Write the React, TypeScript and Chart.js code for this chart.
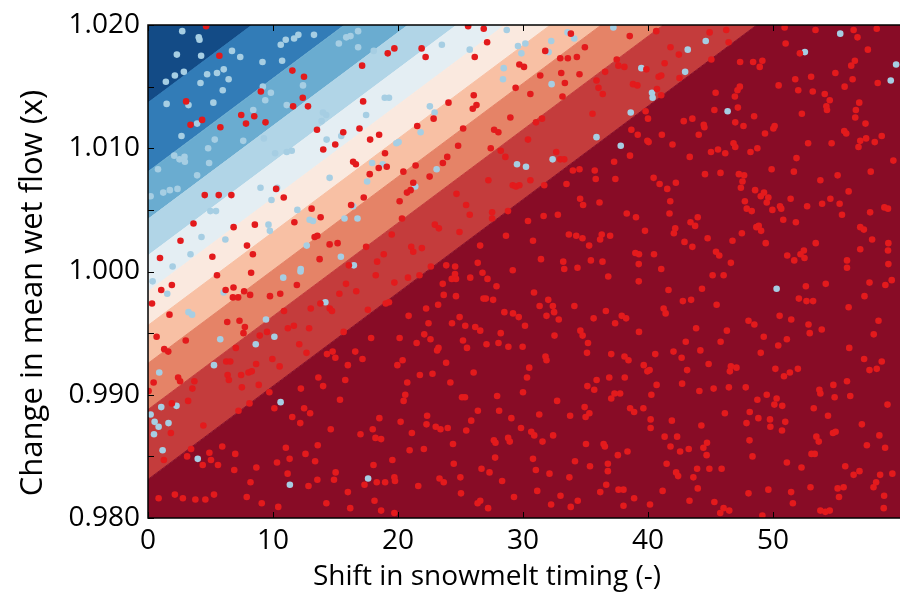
import React, { useEffect, useRef } from 'react';
import { Chart, registerables } from 'chart.js';

Chart.register(...registerables);

// ---------- axis / labels ----------
const xTicks = [0, 10, 20, 30, 40, 50];
const yTicks = [0.98, 0.99, 1.0, 1.01, 1.02];
const yMinorTicks = [0.985, 0.995, 1.005, 1.015];
const xMin = 0;
const xMax = 60.64; // axis continues past the right edge of the picture
const yMin = 0.98;
const yMax = 1.02;
const xTitle = 'Shift in snowmelt timing (-)';
const yTitle = 'Change in mean wet flow (x)';

// ---------- contour band boundaries (value at x = xMin and x = xMax) ----------
const bandLeft = [0.98313, 0.9888, 0.99255, 0.99563, 0.99838, 1.0013, 1.00425, 1.0081, 1.0137];
const bandRight = [1.02904, 1.03471, 1.03846, 1.04154, 1.04429, 1.04721, 1.05016, 1.05401, 1.05961];
const bandColors = ['#880c26', '#c43c3c', '#e58367', '#f8c0a4', '#fae9df', '#e4eef3', '#b1d5e7', '#6aacd0', '#327cb7', '#134b86'];

// ---------- scatter points ----------
const bluePoints: [number, number][] = [
  [2.74,1.0195],[4.06,1.019],[4.12,1.0188],[2.31,1.0176],[4.25,1.0175],[2.87,1.0162],[2.15,1.0159],[1.43,1.0154],[4.2,1.0153],[4.73,1.016],
  [5.52,1.0161],[6.06,1.0164],[6.45,1.0156],[5.98,1.0147],[6.72,1.0179],[7.38,1.0174],[1.49,1.0136],[3.24,1.0135],[5.23,1.0137],[3.93,1.012],
  [2.68,1.011],[5.34,1.0107],[4.81,1.01],[2.1,1.0094],[2.52,1.0091],[2.92,1.0093],[2.95,1.0089],[0.8,1.0083],[4.89,1.0088],[3.93,1.0078],
  [0.21,1.0061],[1.22,1.0064],[1.75,1.0066],[2.36,1.0067],[9.16,1.017],[10.73,1.0171],[9.19,1.015],[9.83,1.0145],[9.38,1.0139],[8.42,1.0131],
  [7.62,1.0106],[9.27,1.0108],[10.17,1.0096],[11.1,1.0135],[10.62,1.0184],[11.02,1.0188],[11.69,1.0189],[12.03,1.0192],[13.28,1.0192],[15.27,1.0185],
  [15.86,1.019],[16.2,1.0191],[16.81,1.0195],[16.81,1.0182],[18.06,1.0179],[18.94,1.0141],[19.28,1.0141],[17.45,1.0127],[14.0,1.0129],[14.26,1.0127],
  [13.89,1.0122],[12.4,1.0151],[14.29,1.0107],[15.46,1.011],[11.5,1.0098],[11.1,1.0097],[17.93,1.0088],[18.78,1.0087],[19.87,1.0104],[17.53,1.0073],
  [14.53,1.0076],[9.0,1.0068],[9.88,1.0058],[10.33,1.0068],[11.95,1.005],[12.93,1.0042],[13.2,1.0041],[15.72,1.0043],[16.41,1.0053],[16.76,1.0043],
  [9.64,1.0038],[9.75,1.0033],[6.19,1.0026],[4.28,1.0028],[3.4,1.0014],[1.97,1.0004],[12.7,1.0021],[15.43,1.0012],[16.47,1.0005],[12.22,1.0002],
  [4.99,1.0049],[5.44,1.0049],
  [28.7,1.0196],[23.51,1.0184],[25.74,1.018],[29.6,1.0183],[30.19,1.0185],[29.87,1.0177],[28.46,1.0165],[28.4,1.0156],[32.26,1.0187],[32.05,1.0178],
  [33.56,1.0194],[34.1,1.0189],[37.23,1.0198],[32.29,1.0152],[39.47,1.0165],[22.55,1.0134],[22.93,1.0129],[21.81,1.0113],[20.05,1.0105],[23.09,1.0083],
  [21.38,1.0069],[38.62,1.0129],[35.88,1.0109],[37.82,1.0102],[32.37,1.0091],[29.52,1.0087],[30.24,1.0085],
  [44.62,1.0187],[43.18,1.018],[42.97,1.0162],[40.32,1.0145],[40.37,1.0141],[46.37,1.013],[52.55,1.0178],[55.38,1.0193],[59.42,1.0155],[59.85,1.0168],
  [0.37,0.9992],[1.54,0.9982],[3.24,0.9967],[3.53,0.9965],[6.05,0.9983],[9.44,0.9961],[5.78,0.9945],[8.62,0.9941],[10.11,0.9947],[5.28,0.9924],
  [0.9,0.9918],[1.06,0.989],[2.28,0.9891],[0.21,0.9884],[0.53,0.9878],[0.85,0.9874],[1.64,0.9877],[0.48,0.9868],[1.17,0.9855],[3.98,0.9848],
  [10.61,0.9894],[10.82,0.9995],[11.35,0.9827],[17.61,0.9832],[14.19,0.9975],[12.2,1.0],
  [50.29,0.9986],
];

const redPoints: [number, number][] = [
  // x 0-20, y 1.000-1.020
  [4.65,1.0199],[5.71,1.0175],[11.55,1.0163],[12.48,1.0158],[9.03,1.0146],[12.38,1.0141],[11.61,1.0134],[12.8,1.0134],[3.05,1.0138],[4.33,1.0123],
  [3.4,1.0119],[5.79,1.0117],[7.46,1.0127],[8.5,1.0126],[7.84,1.012],[9.4,1.0121],[13.52,1.0115],[15.62,1.0113],[14.98,1.0103],[14.02,1.0099],
  [16.92,1.0116],[17.77,1.0107],[18.49,1.0111],[18.96,1.0096],[16.41,1.0089],[16.63,1.0087],[18.46,1.0084],[19.1,1.0085],[17.74,1.0079],[19.18,1.0177],
  [19.71,1.0181],[17.13,1.0167],[17.21,1.0138],[4.54,1.0062],[5.66,1.0062],[6.67,1.0062],[10.25,1.0067],[10.86,1.006],[13.09,1.0051],[13.81,1.0044],
  [11.71,1.004],[8.55,1.0038],[6.85,1.0036],[3.64,1.0039],[2.6,1.0025],[7.92,1.0021],[8.39,1.0014],[5.15,1.0012],[0.96,1.0011],[13.33,1.0028],
  [13.55,1.0029],[14.53,1.0022],[15.17,1.0023],[16.25,1.0054],[17.26,1.006],[19.5,1.003],[17.45,1.002],[18.86,1.0014],[18.33,1.0008],[13.73,1.001],
  [16.07,1.0005],
  // x 20-40, y 1.000-1.020
  [25.61,1.0199],[26.86,1.0197],[27.13,1.0186],[21.89,1.0181],[22.21,1.0174],[26.14,1.0174],[31.78,1.0179],[32.98,1.0173],[33.59,1.0173],[34.31,1.0174],
  [33.83,1.0193],[34.95,1.0182],[38.54,1.0191],[37.5,1.0172],[37.63,1.0167],[38.11,1.0166],[39.87,1.0164],[29.71,1.0168],[30.08,1.0166],[31.38,1.0159],
  [33.06,1.0161],[34.52,1.016],[33.35,1.0153],[29.41,1.0149],[30.59,1.0144],[33.16,1.0142],[26.06,1.0143],[26.28,1.0135],[25.98,1.0132],[24.04,1.0137],
  [22.85,1.0124],[21.54,1.0118],[25.21,1.0116],[27.69,1.0115],[28.03,1.0113],[28.99,1.0125],[31.04,1.0121],[31.52,1.0124],[35.88,1.0155],[36.04,1.0149],
  [36.38,1.0144],[36.57,1.0162],[38.8,1.0152],[39.15,1.0151],[35.56,1.0128],[39.81,1.013],[38.67,1.0115],[39.18,1.0111],[39.95,1.0106],[38.56,1.0094],
  [37.29,1.0089],[30.4,1.0107],[27.42,1.01],[28.22,1.0098],[28.59,1.0093],[24.81,1.0102],[23.94,1.0093],[23.59,1.0088],[22.53,1.0077],[20.43,1.0081],
  [21.41,1.0086],[32.66,1.0097],[32.98,1.0091],[33.3,1.0091],[33.99,1.0082],[34.52,1.0083],[35.74,1.0082],[35.82,1.0075],[37.39,1.0075],[30.59,1.0074],
  [31.7,1.007],[33.48,1.0071],[27.23,1.0074],[29.18,1.007],[29.44,1.0069],[29.71,1.007],[21.22,1.0072],[21.01,1.0066],[20.72,1.0064],[20.13,1.0057],
  [20.32,1.0043],[24.68,1.0063],[25.45,1.0054],[25.74,1.0046],[27.53,1.0048],[27.53,1.0043],[28.8,1.0049],[30.4,1.0041],[31.65,1.0045],[32.79,1.0046],
  [34.57,1.0059],[34.81,1.0054],[36.12,1.0056],[38.3,1.0047],[39.04,1.0044],[22.95,1.0038],[23.27,1.0035],[24.92,1.0032],[21.06,1.002],[21.22,1.0016],
  [21.91,1.0019],[22.63,1.0004],[23.86,1.0005],[24.57,1.0004],[26.57,1.0021],[26.38,1.0007],[28.64,1.0029],[30.8,1.0025],[31.44,1.001],[33.22,1.0008],
  [33.67,1.003],[34.26,1.0029],[34.76,1.0027],[35.29,1.0021],[36.17,1.0026],[36.3,1.003],[36.97,1.0029],[39.76,1.0033],[35.43,1.0009],[36.36,1.0008],
  [38.99,1.0015],[39.28,1.0014],[39.26,1.0006],[29.18,1.0001],[33.3,1.0002],[34.36,1.0003],
  // x 40-60, y 1.000-1.020
  [40.66,1.0195],[41.8,1.0182],[42.47,1.0176],[41.33,1.0169],[40.85,1.0158],[41.06,1.0159],[42.52,1.0157],[40.72,1.0148],[41.06,1.0143],[44.93,1.0194],
  [46.26,1.0196],[46.45,1.0186],[45.07,1.0172],[40.0,1.0124],[47.37,1.017],[48.41,1.017],[49.15,1.0171],[48.94,1.0166],[51.01,1.0185],[50.93,1.0198],
  [53.4,1.0196],[56.45,1.0196],[56.76,1.019],[58.3,1.0197],[57.59,1.018],[52.15,1.0177],[56.55,1.0171],[56.26,1.0167],[54.99,1.0161],[56.37,1.0156],
  [51.78,1.0156],[53.05,1.0158],[50.45,1.0151],[52.02,1.0147],[53.18,1.0146],[54.14,1.0144],[54.54,1.0139],[54.27,1.0134],[54.32,1.0131],[55.73,1.015],
  [58.38,1.0153],[56.9,1.0137],[56.63,1.0131],[56.58,1.0125],[57.4,1.012],[58.7,1.011],[58.14,1.0105],[57.45,1.0108],[56.98,1.0106],[56.84,1.0101],
  [55.7,1.0114],[55.86,1.0112],[54.69,1.0104],[52.81,1.0104],[51.88,1.0092],[49.89,1.0083],[51.67,1.0081],[53.79,1.0074],[55.17,1.0078],[56.05,1.0065],
  [54.59,1.0059],[53.93,1.0055],[55.33,1.0055],[55.52,1.0046],[56.98,1.0036],[57.27,1.0034],[57.77,1.0048],[57.82,1.0081],[58.91,1.0052],[59.2,1.0051],
  [59.63,1.009],[57.93,1.0026],[59.23,1.0023],[59.2,1.0017],[56.98,1.0018],[55.92,1.0009],[55.92,1.0003],[59.23,1.0006],[53.42,1.0023],[52.47,1.0017],
  [52.2,1.0014],[52.52,1.0011],[51.7,1.0009],[51.14,1.0013],[52.73,1.0053],[51.41,1.0059],[51.83,1.004],[50.82,1.0042],[50.56,1.0053],[50.66,1.0051],
  [49.95,1.005],[49.63,1.006],[49.5,1.0056],[49.28,1.0064],[49.02,1.0061],[48.57,1.0066],[48.86,1.0037],[49.05,1.0033],[48.67,1.0036],[47.75,1.0057],
  [47.9,1.0051],[48.3,1.0049],[47.51,1.0031],[46.76,1.0025],[46.63,1.0007],[49.42,1.0023],[45.44,1.0016],[45.7,1.0013],[44.77,1.0027],[43.55,1.002],
  [42.92,1.0024],[40.48,1.0014],[41.06,1.0002],[43.98,1.0044],[43.4,1.004],[43.77,1.0037],[42.18,1.0035],[42.07,1.0031],[41.72,1.0047],[41.78,1.0057],
  [41.54,1.0067],[40.93,1.0071],[40.45,1.0076],[42.23,1.0072],[44.56,1.0079],[45.8,1.008],[47.27,1.0079],[47.69,1.0078],[47.56,1.0073],[47.43,1.0068],
  [46.18,1.0096],[45.6,1.0099],[45.04,1.0097],[43.34,1.0093],[41.96,1.0103],[41.11,1.0111],[40.05,1.0105],[44.06,1.0111],[44.46,1.0119],[44.51,1.0117],
  [43.55,1.0124],[42.86,1.0122],[45.31,1.0131],[45.41,1.0145],[46.95,1.0142],[47.16,1.0147],[47.35,1.015],[47.19,1.0133],[46.98,1.0121],[47.64,1.0118],
  [48.49,1.0126],[49.36,1.0112],[50.03,1.0116],[50.13,1.0118],[48.2,1.0097],[48.75,1.01],[46.98,1.0101],[46.84,1.0104],[52.31,1.0128],
  // x 0-20, y 0.980-1.000
  [5.52,0.9997],[1.06,0.9985],[1.91,0.9989],[0.32,0.9974],[1.72,0.9965],[6.21,0.9985],[6.84,0.9987],[6.79,0.9979],[7.21,0.9979],[7.69,0.9984],
  [8.17,0.9981],[8.25,0.9999],[9.76,0.998],[10.58,0.9982],[11.91,0.9989],[10.88,0.9968],[6.34,0.9959],[7.32,0.996],[7.75,0.9955],[7.64,0.995],
  [8.94,0.9948],[9.52,0.9951],[3.02,0.9944],[0.69,0.9947],[1.3,0.9937],[1.62,0.9935],[7.03,0.9938],[11.19,0.9954],[11.67,0.9956],[12.89,0.9954],
  [12.1,0.9941],[12.68,0.9934],[13.02,0.997],[13.79,0.9974],[14.54,0.997],[14.72,0.9968],[15.31,0.9982],[15.84,0.999],[16.66,0.9984],[17.59,0.9969],
  [18.22,0.9997],[19.02,0.9974],[19.28,0.9975],[19.71,0.9991],[15.65,0.9951],[17.85,0.9946],[14.32,0.9933],[14.77,0.9935],[14.99,0.993],[15.99,0.9924],
  [16.58,0.9935],[17.16,0.9929],[19.95,0.9924],[13.63,0.9914],[14.01,0.9907],[15.78,0.9912],[6.26,0.9927],[6.58,0.9927],[8.65,0.9925],[9.95,0.9929],
  [10.53,0.9923],[8.04,0.9918],[8.3,0.9919],[7.45,0.9916],[6.37,0.9916],[6.47,0.9912],[2.41,0.9914],[2.57,0.9911],[0.45,0.991],[0.05,0.9903],
  [3.71,0.9911],[3.55,0.9905],[3.21,0.9895],[7.51,0.9906],[8.86,0.9908],[9.71,0.9902],[12.23,0.9905],[15.36,0.9896],[7.24,0.9887],[8.12,0.9893],
  [10.11,0.9889],[12.49,0.9889],[12.97,0.9885],[11.54,0.9882],[12.18,0.9877],[14.62,0.9872],[17.0,0.9868],[17.98,0.9872],[18.2,0.9865],[18.65,0.9864],
  [18.51,0.9881],[1.91,0.9893],[1.83,0.9869],[4.43,0.9875],[5.94,0.9858],[4.91,0.9853],[6.98,0.9852],[5.04,0.9847],[4.38,0.9843],[5.6,0.9843],
  [3.45,0.9856],[3.13,0.985],[1.27,0.9847],[8.67,0.9841],[11.03,0.9857],[11.33,0.9848],[10.32,0.9845],[12.6,0.9852],[13.58,0.9859],[13.37,0.9846],
  [15.01,0.9837],[14.88,0.9831],[11.17,0.9836],[8.2,0.9829],[13.55,0.9831],[6.9,0.9839],[18.04,0.9843],[19.55,0.9847],[19.71,0.9833],[18.97,0.9829],
  [19.76,0.983],[15.99,0.9821],[17.32,0.9827],[18.3,0.9829],[18.12,0.9814],[18.65,0.9806],[19.71,0.9804],[16.18,0.9808],[14.27,0.9812],[12.84,0.9826],
  [10.42,0.9809],[9.1,0.9812],[7.9,0.9817],[5.28,0.9819],[4.59,0.9815],[3.79,0.9815],[2.79,0.9816],[2.15,0.9819],[0.85,0.9816],
  // x 20-40, y 0.980-1.000
  [20.8,0.9995],[21.72,0.9997],[23.58,0.999],[24.3,0.9994],[24.64,0.9994],[24.56,0.9998],[25.78,0.9995],[26.76,0.9999],[27.16,0.9994],[27.88,0.9988],
  [30.88,0.9983],[36.82,0.9996],[39.26,0.9992],[23.66,0.9981],[24.64,0.998],[23.21,0.9973],[22.25,0.997],[26.84,0.9978],[27.03,0.9978],[27.61,0.9977],
  [20.85,0.9964],[22.44,0.9958],[24.32,0.9958],[24.93,0.9963],[25.38,0.9956],[26.18,0.9955],[26.58,0.9952],[28.51,0.9967],[29.2,0.9966],[29.66,0.9963],
  [30.16,0.9956],[28.22,0.995],[28.04,0.9942],[28.83,0.9939],[29.97,0.9939],[31.33,0.9972],[32.02,0.9977],[32.39,0.9972],[32.49,0.9967],[31.88,0.9964],
  [32.86,0.9961],[34.11,0.9972],[32.52,0.9948],[34.59,0.9952],[34.77,0.9948],[35.65,0.9962],[36.63,0.9968],[37.37,0.9958],[37.9,0.9964],[38.25,0.9962],
  [39.28,0.9951],[22.1,0.9949],[22.6,0.9945],[21.49,0.9942],[20.13,0.9946],[25.2,0.9944],[25.52,0.9938],[27.08,0.9941],[23.13,0.9936],[23.24,0.9938],
  [20.37,0.9928],[23.85,0.9926],[31.8,0.9931],[31.88,0.9928],[30.5,0.9922],[30.32,0.9914],[30.0,0.9902],[35.2,0.9942],[35.12,0.9934],[37.06,0.9933],
  [38.12,0.9931],[38.44,0.9928],[39.66,0.9924],[39.95,0.9919],[21.75,0.9916],[22.76,0.9917],[26.05,0.9918],[24.19,0.991],[20.74,0.991],[20.58,0.99],
  [20.45,0.9895],[25.12,0.9898],[25.36,0.9898],[27.93,0.9899],[32.73,0.9895],[35.89,0.9912],[35.15,0.9907],[35.7,0.9904],[36.9,0.9914],[38.14,0.9914],
  [37.06,0.9897],[37.32,0.9901],[37.77,0.9901],[34.93,0.989],[35.31,0.9885],[35.01,0.9882],[38.57,0.9889],[38.89,0.9886],[39.63,0.9889],[20.21,0.9878],
  [22.33,0.9883],[22.28,0.9876],[23.02,0.9874],[23.4,0.9872],[23.98,0.9873],[21.11,0.9869],[26.39,0.9887],[25.86,0.9879],[25.46,0.9871],[28.09,0.9887],
  [29.07,0.9881],[29.84,0.9873],[30.66,0.987],[30.9,0.9867],[31.56,0.9862],[32.41,0.9867],[31.3,0.9884],[33.77,0.9883],[27.67,0.9863],[27.8,0.9861],
  [28.81,0.9865],[28.94,0.9862],[24.4,0.986],[20.93,0.9855],[22.07,0.9856],[35.04,0.986],[36.45,0.986],[36.55,0.9858],[37.59,0.9851],[38.36,0.9854],
  [30.8,0.9848],[27.77,0.9849],[24.46,0.9844],[26.68,0.984],[27.32,0.9837],[34.16,0.9846],[35.36,0.9842],[36.79,0.9844],[36.79,0.9838],[31.03,0.9839],
  [32.12,0.9836],[33.71,0.9833],[21.62,0.9826],[23.32,0.9832],[23.66,0.9829],[24.99,0.9833],[28.33,0.983],[36.66,0.9827],[36.18,0.9821],[37.64,0.9823],
  [38.04,0.9823],[31.14,0.9822],[29.28,0.9817],[33.0,0.9818],[25.04,0.982],[26.37,0.9812],[26.58,0.9814],[27.21,0.9808],[34.38,0.9814],[33.82,0.9809],
  [32.25,0.9811],[38.04,0.981],[38.89,0.9816],
  // x 40-60, y 0.980-1.000
  [45.17,0.9997],[46.05,0.9997],[41.64,0.9985],[44.32,0.9986],[42.79,0.9976],[43.45,0.9977],[45.49,0.9973],[41.25,0.997],[41.41,0.9966],[52.63,0.9988],
  [54.22,0.999],[52.07,0.9978],[52.68,0.9976],[53.21,0.9976],[57.32,0.998],[57.72,0.9991],[58.99,0.9989],[59.5,0.9993],[56.05,0.9971],[50.53,0.9964],
  [51.46,0.9961],[52.84,0.9957],[52.94,0.995],[53.9,0.9953],[48.04,0.996],[48.51,0.9957],[43.85,0.9954],[46.31,0.9952],[49.26,0.9947],[50.42,0.994],
  [51.11,0.9945],[58.44,0.996],[58.06,0.9949],[45.81,0.9943],[43.02,0.9943],[44.19,0.9936],[42.04,0.9935],[40.58,0.9933],[42.69,0.993],[49.02,0.9934],
  [56.1,0.9938],[57.29,0.9929],[58.7,0.9927],[57.72,0.992],[58.3,0.9921],[44.85,0.9925],[46.63,0.9923],[47.08,0.9922],[46.55,0.9919],[43.13,0.992],
  [40.13,0.992],[50.19,0.9921],[50.88,0.9915],[51.35,0.9918],[51.99,0.9921],[55.92,0.9911],[54.83,0.9908],[40.69,0.9908],[42.73,0.9909],[44.11,0.9903],
  [45.25,0.9905],[46.47,0.9906],[47.82,0.9906],[40.27,0.99],[48.75,0.9896],[49.5,0.99],[50.29,0.9897],[50.11,0.9892],[50.74,0.9891],[53.71,0.9904],
  [53.79,0.9901],[54.93,0.9898],[56.18,0.9899],[53.26,0.9889],[54.4,0.9883],[59.16,0.9892],[46.15,0.9885],[48.14,0.9886],[47.88,0.9877],[48.83,0.9881],
  [49.76,0.988],[49.79,0.9874],[50.98,0.9878],[50.72,0.9871],[40.21,0.988],[40.21,0.9873],[41.91,0.9879],[44.27,0.9875],[41.33,0.9866],[42.33,0.9866],
  [41.8,0.9858],[42.57,0.9854],[43.26,0.9856],[44.43,0.9857],[44.72,0.9861],[44.69,0.9851],[48.12,0.9863],[48.36,0.985],[53.47,0.9866],[53.66,0.9862],
  [54.8,0.9869],[55.01,0.987],[57.11,0.9876],[58.51,0.9867],[58.97,0.9857],[57.51,0.9859],[53.08,0.9852],[53.34,0.9852],[51.11,0.9845],[52.28,0.9841],
  [41.49,0.9844],[43.93,0.984],[44.91,0.984],[45.89,0.984],[42.25,0.9837],[42.41,0.9834],[43.63,0.9833],[55.78,0.9842],[56.45,0.9835],[56.92,0.9838],
  [58.57,0.9835],[58.25,0.9829],[58.04,0.9825],[59.55,0.9836],[41.17,0.9822],[43.98,0.9824],[43.32,0.9814],[45.31,0.9813],[48.04,0.982],[49.63,0.9823],
  [51.45,0.9821],[51.59,0.9812],[53.0,0.9825],[55.17,0.9824],[55.65,0.9825],[55.28,0.9817],[58.89,0.9818],[46.05,0.9808],[46.5,0.9806],[45.78,0.9804],
  [49.15,0.9802],[53.79,0.9806],[54.19,0.9805],[54.54,0.9806],[58.86,0.9808],[40.16,0.9811],
];

const FONT = '"Open Sans", "DejaVu Sans", sans-serif';

const framePlugin = {
  id: 'frame',
  afterDatasetsDraw(chart: any) {
    const { ctx, chartArea: a, scales } = chart;
    const xs = scales.x;
    const ys = scales.y;
    ctx.save();
    ctx.strokeStyle = '#000';
    ctx.lineWidth = 1;
    ctx.beginPath();
    for (const v of xTicks) {
      const px = Math.round(xs.getPixelForValue(v)) + 0.5;
      ctx.moveTo(px, a.bottom);
      ctx.lineTo(px, a.bottom - 6);
      ctx.moveTo(px, a.top);
      ctx.lineTo(px, a.top + 6);
    }
    for (const v of [...yTicks, ...yMinorTicks]) {
      const py = Math.round(ys.getPixelForValue(v)) + 0.5;
      ctx.moveTo(a.left, py);
      ctx.lineTo(a.left + 6, py);
    }
    ctx.stroke();
    // spines (left, top, bottom; the right one lies outside the picture)
    ctx.lineWidth = 1.5;
    ctx.beginPath();
    ctx.moveTo(a.right + 4, a.top);
    ctx.lineTo(a.left, a.top);
    ctx.lineTo(a.left, a.bottom);
    ctx.lineTo(a.right + 4, a.bottom);
    ctx.stroke();
    // axis titles
    ctx.fillStyle = '#000';
    ctx.font = `28px ${FONT}`;
    ctx.textAlign = 'center';
    ctx.textBaseline = 'alphabetic';
    ctx.fillText(xTitle, 487, 585);
    ctx.translate(42, 293);
    ctx.rotate(-Math.PI / 2);
    ctx.font = `31px ${FONT}`;
    ctx.fillText(yTitle, 0, 0);
    ctx.restore();
  },
};

export default function App() {
  const canvasRef = useRef<HTMLCanvasElement | null>(null);

  useEffect(() => {
    if (!canvasRef.current) return;

    const bandDatasets: any[] = bandLeft.map((v, i) => ({
      type: 'line',
      data: [
        { x: xMin, y: v },
        { x: xMax, y: bandRight[i] },
      ],
      fill: i === 0 ? 'start' : '-1',
      backgroundColor: bandColors[i],
      borderColor: bandColors[i],
      borderWidth: 1,
      pointRadius: 0,
      tension: 0,
      order: 1,
    }));
    const last = bandLeft.length - 1;
    bandDatasets.push({
      type: 'line',
      data: [
        { x: xMin, y: bandLeft[last] },
        { x: xMax, y: bandRight[last] },
      ],
      fill: 'end',
      backgroundColor: bandColors[last + 1],
      borderColor: bandColors[last + 1],
      borderWidth: 1,
      pointRadius: 0,
      tension: 0,
      order: 1,
    });

    const chart = new Chart(canvasRef.current, {
      type: 'scatter',
      data: {
        datasets: [
          ...bandDatasets,
          {
            type: 'scatter',
            data: redPoints.map(([x, y]) => ({ x, y })),
            backgroundColor: '#e31a1c',
            borderWidth: 0,
            pointRadius: 3.3,
            order: 0,
          },
          {
            type: 'scatter',
            data: bluePoints.map(([x, y]) => ({ x, y })),
            backgroundColor: '#a6cee3',
            borderWidth: 0,
            pointRadius: 3.3,
            order: 0,
          },
        ],
      },
      options: {
        animation: false,
        responsive: false,
        events: [],
        layout: { padding: { top: 25, right: 0, left: 0, bottom: 0 } },
        plugins: { legend: { display: false }, tooltip: { enabled: false } },
        scales: {
          x: {
            type: 'linear',
            min: xMin,
            max: xMax,
            grid: { display: false, drawTicks: false },
            border: { display: false },
            afterBuildTicks: (s: any) => {
              s.ticks = xTicks.map((v) => ({ value: v }));
            },
            afterFit: (s: any) => {
              s.height = 78;
            },
            ticks: {
              color: '#000',
              padding: 6,
              maxRotation: 0,
              font: { family: FONT, size: 28 },
              callback: (v: any) => String(v),
            },
          },
          y: {
            type: 'linear',
            min: yMin,
            max: yMax,
            grid: { display: false, drawTicks: false },
            border: { display: false },
            afterBuildTicks: (s: any) => {
              s.ticks = yTicks.map((v) => ({ value: v }));
            },
            afterFit: (s: any) => {
              s.width = 148;
            },
            ticks: {
              color: '#000',
              padding: 8,
              font: { family: FONT, size: 28 },
              callback: (v: any) => Number(v).toFixed(3),
            },
          },
        },
      },
      plugins: [framePlugin],
    } as any);

    return () => chart.destroy();
  }, []);

  return (
    <div style={{ position: 'absolute', left: 0, top: 0, width: 900, height: 596, overflow: 'hidden', background: '#fff' }}>
      <canvas ref={canvasRef} width={910} height={596} style={{ display: 'block' }} />
    </div>
  );
}
